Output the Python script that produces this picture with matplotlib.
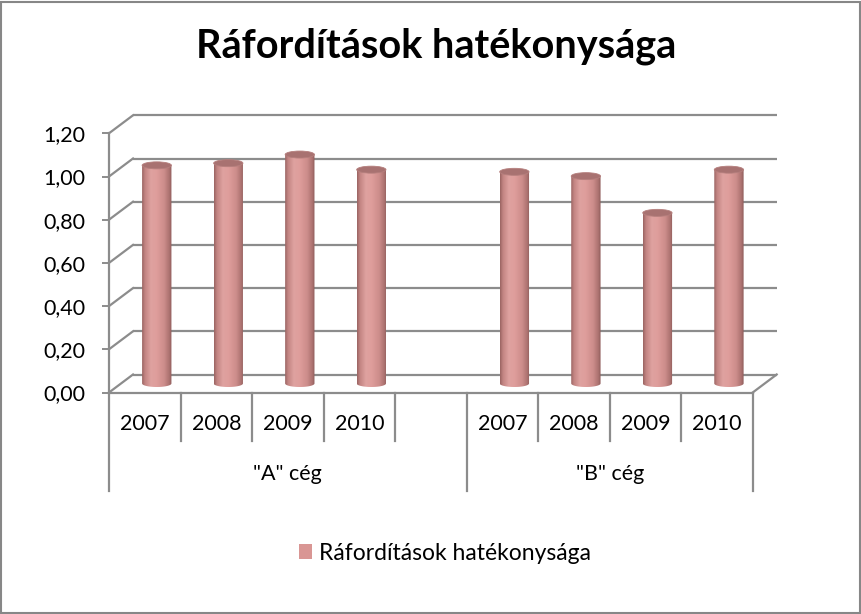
import numpy as np
import matplotlib
matplotlib.use("Agg")
import matplotlib.pyplot as plt
from matplotlib.patches import Ellipse, Patch, Rectangle
from matplotlib.path import Path
from matplotlib.colors import LinearSegmentedColormap

# ---- data ----
title = "Ráfordítások hatékonysága"
series_name = "Ráfordítások hatékonysága"
years = ["2007", "2008", "2009", "2010"]
companies = ['"A" cég', '"B" cég']
values_a = [1.01, 1.02, 1.06, 0.99]
values_b = [0.98, 0.96, 0.79, 0.99]
yticks = [0.0, 0.2, 0.4, 0.6, 0.8, 1.0, 1.2]
ytick_labels = ["0,00", "0,20", "0,40", "0,60", "0,80", "1,00", "1,20"]

# ---- style ----
FONT = "Lato"
plt.rcParams["font.family"] = [FONT, "DejaVu Sans"]
GRID = "#8c8c8c"
FIG_W, FIG_H, DPI = 862, 614, 100

fig = plt.figure(figsize=(FIG_W / DPI, FIG_H / DPI), dpi=DPI)
fig.patch.set_facecolor("white")

L, B = 109 / FIG_W, (FIG_H - 392.5) / FIG_H
W, H = (752.7 - 109) / FIG_W, (392.5 - 133.3) / FIG_H
ax = fig.add_axes([L, B, W, H])
ax.set_facecolor("none")

# slots: A years, gap, B years
slots_a = list(range(len(years)))
slots_b = [len(years) + 1 + i for i in range(len(years))]
nslots = len(slots_a) + 1 + len(slots_b)
ax.set_xlim(-0.5, nslots - 0.5)
ax.set_ylim(0, 1.2)

px_x = W * FIG_W / nslots
px_y = H * FIG_H / 1.2
ddx, ddy = 24 / px_x, 18 / px_y
x0, x1 = -0.5, nslots - 0.5

glw = 1.6
# back wall gridlines and side wall diagonals
for t in yticks:
    ax.plot([x0 + ddx, x1 + ddx], [t + ddy, t + ddy], color=GRID, lw=glw, clip_on=False, zorder=1,
            solid_capstyle="butt")
    ax.plot([x0, x0 + ddx], [t, t + ddy], color=GRID, lw=glw, clip_on=False, zorder=1)
# floor
ax.plot([x0, x1], [0, 0], color=GRID, lw=glw, clip_on=False, zorder=1)
ax.plot([x1, x1 + ddx], [0, ddy], color=GRID, lw=glw, clip_on=False, zorder=1)
# front vertical axis
ax.plot([x0, x0], [0, 1.2], color=GRID, lw=glw, clip_on=False, zorder=1)

# category separators below the floor
year_drop = -48 / px_y
group_drop = -98 / px_y
group_bounds = [0, len(years) + 1, nslots]
for k in range(nslots + 1):
    drop = group_drop if k in group_bounds else year_drop
    ax.plot([k - 0.5, k - 0.5], [0, drop], color=GRID, lw=glw, clip_on=False, zorder=1)

lab_fs = 15.5
for slots in (slots_a, slots_b):
    for s, yr in zip(slots, years):
        ax.text(s, -32 / px_y, yr, ha="center", va="center", fontsize=lab_fs, color="black")
ax.text((0 + len(years)) / 2, -81.5 / px_y, companies[0], ha="center", va="center",
        fontsize=lab_fs, color="black")
ax.text((len(years) + 1 + nslots - 1) / 2, -81.5 / px_y, companies[1], ha="center", va="center",
        fontsize=lab_fs, color="black")

# y ticks
ax.set_yticks(yticks)
ax.set_yticklabels(ytick_labels, fontsize=lab_fs, color="black")
ax.tick_params(axis="y", direction="out", length=5, width=1.4, color=GRID, pad=12)
ax.set_xticks([])
for sp in ax.spines.values():
    sp.set_visible(False)

# cylinders
cmap = LinearSegmentedColormap.from_list("cyl", [
    (0.0, "#9a6462"), (0.10, "#c38583"), (0.30, "#dfa2a0"), (0.50, "#de9d9b"),
    (0.75, "#cc8c8a"), (0.92, "#ab716f"), (1.0, "#8c5a58")])
bw = 0.41
eh = 7 / px_y
grad = np.linspace(0, 1, 128)[None, :]
for slots, vals in ((slots_a, values_a), (slots_b, values_b)):
    for s, v in zip(slots, vals):
        cx = s + ddx / 2
        base = ddy / 2
        top = v + ddy / 2
        th = np.linspace(np.pi, 2 * np.pi, 40)
        arc = np.column_stack([cx + bw / 2 * np.cos(th), base + eh / 2 * np.sin(th)])
        verts = np.vstack([[cx - bw / 2, top], arc, [cx + bw / 2, top], [cx - bw / 2, top]])
        codes = [Path.MOVETO] + [Path.LINETO] * (len(verts) - 2) + [Path.CLOSEPOLY]
        clip = Path(verts, codes)
        im = ax.imshow(grad, cmap=cmap, aspect="auto", interpolation="bilinear",
                       extent=(cx - bw / 2, cx + bw / 2, base - eh, top), zorder=3)
        im.set_clip_path(clip, ax.transData)
        im.set_clip_on(True)
        ax.add_patch(Ellipse((cx, top), bw, eh, facecolor="#a87271", edgecolor="#b57f7d",
                             lw=0.6, zorder=4, clip_on=False))

ax.set_xlim(-0.5, nslots - 0.5)
ax.set_ylim(0, 1.2)

# title
fig.text(436 / FIG_W, (FIG_H - 57.3) / FIG_H, title, ha="center", va="baseline",
         fontsize=28.5, fontweight="bold", color="black")

# legend
fig.legend(handles=[Patch(facecolor="#d99694", edgecolor="none")], labels=[series_name],
           loc="center", bbox_to_anchor=(445 / FIG_W, (FIG_H - 553) / FIG_H),
           frameon=False, fontsize=16.5, handlelength=0.6, handleheight=0.6,
           handletextpad=0.3, borderpad=0)

# outer border
fig.patches.append(Rectangle((1.5 / FIG_W, 1.5 / FIG_H), (FIG_W - 3) / FIG_W, (FIG_H - 3) / FIG_H,
                             transform=fig.transFigure, fill=False, edgecolor="#878787", lw=1.5))

fig.savefig("out.png", dpi=DPI)
